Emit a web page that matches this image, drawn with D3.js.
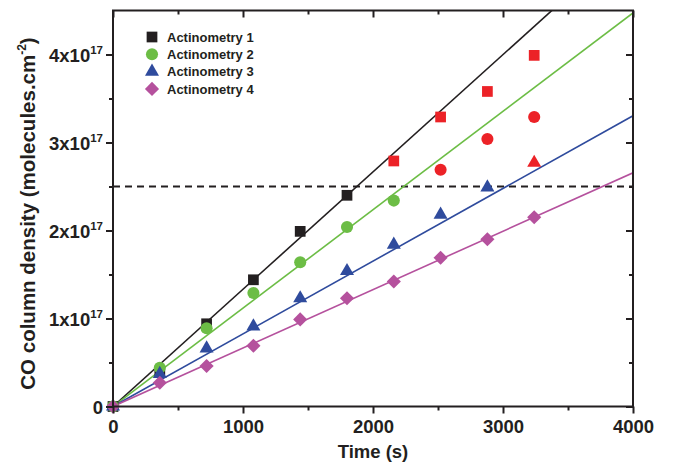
<script src="https://cdn.jsdelivr.net/npm/d3@7"></script>
<style>
  body { margin: 0; background: #fff; }
  svg text { font-family: "Liberation Sans", Arial, sans-serif; font-weight: bold; fill: #231f20; }
</style>
<div class="vis"></div>
<script>
  // data (units of 1e17 molecules.cm-2)
  const times = [0, 360, 720, 1080, 1440, 1800, 2160, 2520, 2880, 3240];
  const act1 = [0, 0.40, 0.94, 1.44, 1.99, 2.40, 2.79, 3.29, 3.58, 3.99];
  const act2 = [0, 0.44, 0.89, 1.29, 1.64, 2.04, 2.34, 2.69, 3.04, 3.29];
  const act3 = [0, 0.37, 0.66, 0.91, 1.23, 1.54, 1.84, 2.18, 2.49, 2.77];
  const act4 = [0, 0.27, 0.46, 0.69, 0.99, 1.23, 1.42, 1.69, 1.90, 2.15];
  // fitted slopes (1e17 per s)
  const slopes = [1.333e-3, 1.118e-3, 0.826e-3, 0.664e-3];
  const names = ["Actinometry 1", "Actinometry 2", "Actinometry 3", "Actinometry 4"];
  const threshold = 2.5;
  const yTicks = [0, 1, 2, 3, 4];
  const xTicks = [0, 1000, 2000, 3000, 4000];

  const colors = ["#231f20", "#6cbd45", "#2f4b9d", "#b5519d"];
  const red = "#ec2227";
  const shapes = [d3.symbolSquare, d3.symbolCircle, d3.symbolTriangle, d3.symbolSquare];
  const sizes = [115, 115, 85, 100];
  const rot = [0, 0, 0, 45];

  const W = 673, H = 465;
  const m = {left: 113, right: 40, top: 10.5, bottom: 58.5};
  const svg = d3.select(".vis").append("svg").attr("width", W).attr("height", H);

  const x = d3.scaleLinear().domain([0, 4000]).range([m.left, W - m.right]);
  const y = d3.scaleLinear().domain([0, 4.5]).range([H - m.bottom, m.top]);

  svg.append("defs").append("clipPath").attr("id", "clip").append("rect")
    .attr("x", x(0)).attr("y", y(4.5)).attr("width", x(4000) - x(0)).attr("height", y(0) - y(4.5));

  // dashed threshold
  svg.append("line")
    .attr("x1", x(0)).attr("x2", x(4000)).attr("y1", y(threshold)).attr("y2", y(threshold))
    .attr("stroke", "#231f20").attr("stroke-width", 2).attr("stroke-dasharray", "7,5");

  const series = [act1, act2, act3, act4];
  const plot = svg.append("g").attr("clip-path", "url(#clip)");
  series.forEach((s, i) => {
    plot.append("line")
      .attr("x1", x(0)).attr("y1", y(0))
      .attr("x2", x(4000)).attr("y2", y(slopes[i] * 4000))
      .attr("stroke", colors[i]).attr("stroke-width", 1.6);
  });
  series.forEach((s, i) => {
    svg.append("g").selectAll("path")
      .data(times.map((t, j) => ({t, v: s[j]})))
      .join("path")
      .attr("d", d3.symbol().type(shapes[i]).size(sizes[i]))
      .attr("transform", d => `translate(${x(d.t)},${y(d.v)}) rotate(${rot[i]})`)
      .attr("fill", d => d.v > threshold ? red : colors[i]);
  });

  // axes (ticks only, frame drawn separately)
  const minorX = d3.range(500, 4000, 1000), minorY = d3.range(0.5, 4.5, 1);
  const gx = svg.append("g").attr("transform", `translate(0,${y(0)})`)
    .call(d3.axisBottom(x).tickValues(xTicks).tickSize(7).tickPadding(6).tickFormat(d3.format("d")));
  gx.selectAll("text").attr("font-size", 18.5).attr("font-family", null);
  svg.append("g").attr("transform", `translate(0,${y(0)})`)
    .call(d3.axisBottom(x).tickValues(minorX).tickSize(4).tickFormat(""));
  svg.append("g").attr("transform", `translate(0,${y(4.5)})`)
    .call(d3.axisBottom(x).tickValues(xTicks).tickSize(7).tickFormat(""));
  svg.append("g").attr("transform", `translate(0,${y(4.5)})`)
    .call(d3.axisBottom(x).tickValues(minorX).tickSize(4).tickFormat(""));

  svg.append("g").attr("transform", `translate(${x(0)},0)`)
    .call(d3.axisLeft(y).tickValues(yTicks).tickSize(7).tickFormat(""));
  svg.append("g").attr("transform", `translate(${x(0)},0)`)
    .call(d3.axisLeft(y).tickValues(minorY).tickSize(4).tickFormat(""));
  svg.append("g").attr("transform", `translate(${x(4000)},0)`)
    .call(d3.axisLeft(y).tickValues(yTicks).tickSize(7).tickFormat(""));
  svg.append("g").attr("transform", `translate(${x(4000)},0)`)
    .call(d3.axisLeft(y).tickValues(minorY).tickSize(4).tickFormat(""));

  svg.selectAll(".domain").remove();
  svg.selectAll(".tick line").attr("stroke", "#231f20").attr("stroke-width", 2);

  // y tick labels with superscripts
  yTicks.forEach(v => {
    const t = svg.append("text").attr("x", x(0) - 10).attr("y", y(v) + 7.5)
      .attr("text-anchor", "end").attr("font-size", 18.5);
    if (v == 0) { t.text("0"); return; }
    t.append("tspan").text(v + "x10");
    t.append("tspan").text("17").attr("font-size", 11.5).attr("dy", -8);
  });

  // frame
  svg.append("rect")
    .attr("x", x(0)).attr("y", y(4.5)).attr("width", x(4000) - x(0)).attr("height", y(0) - y(4.5))
    .attr("fill", "none").attr("stroke", "#231f20").attr("stroke-width", 2);

  // axis titles
  svg.append("text").attr("x", (x(0) + x(4000)) / 2).attr("y", 458)
    .attr("text-anchor", "middle").attr("font-size", 18.5).text("Time (s)");
  const yt = svg.append("text").attr("transform", `translate(35,${(y(0) + y(4.5)) / 2 + 5}) rotate(-90)`)
    .attr("text-anchor", "middle").attr("font-size", 20.5);
  yt.append("tspan").text("CO column density (molecules.cm");
  yt.append("tspan").text("-2").attr("font-size", 12).attr("dy", -9);
  yt.append("tspan").text(")").attr("dy", 9);

  // legend
  const lg = svg.append("g").attr("transform", "translate(152,37)");
  names.forEach((n, i) => {
    const row = lg.append("g").attr("transform", `translate(0,${i * 17.3})`);
    row.append("path").attr("d", d3.symbol().type(shapes[i]).size(sizes[i]))
      .attr("transform", `rotate(${rot[i]})`)
      .attr("fill", colors[i]);
    row.append("text").attr("x", 15).attr("y", 4.6).attr("font-size", 13).text(n);
  });
</script>
